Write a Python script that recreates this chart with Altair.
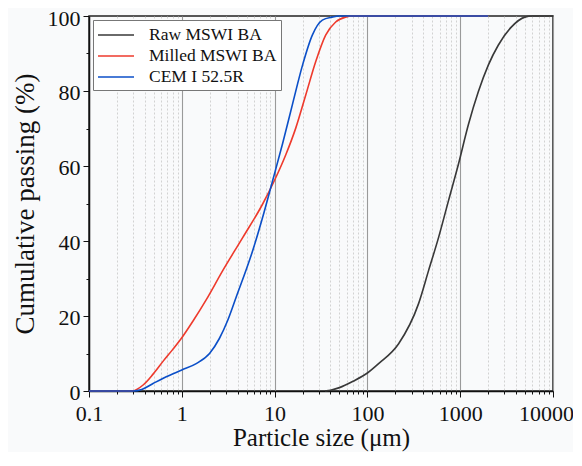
import altair as alt
import pandas as pd

names = ["Raw MSWI BA", "Milled MSWI BA", "CEM I 52.5R"]
colors = ["#383838", "#ee3a2c", "#0b4fc8"]

raw_x = [35, 40, 50, 70, 100, 132, 217, 356, 456, 584, 747, 955, 1224, 1567, 2008, 2570, 3573, 4966, 6000, 10000]
raw_y = [0, 0.2, 0.9, 2.6, 4.8, 7.3, 12.6, 23.3, 32.1, 40.9, 50.7, 60.4, 71, 79.8, 86.9, 92.2, 97.1, 99.7, 100, 100]

mil_x = [0.1, 0.29, 0.383, 0.49, 0.627, 0.8, 1, 1.316, 1.83, 2.76, 4.53, 7.41, 9.9, 13.2, 16.9, 21.7, 27.7, 35.5, 45.5, 58, 70, 2000]
mil_y = [0, 0, 1.6, 4.5, 7.9, 11.1, 14.2, 18.6, 24.3, 32.1, 40.9, 49.8, 56, 63, 70.1, 79, 87.8, 94.9, 98.4, 99.7, 100, 100]

cem_x = [0.1, 0.3, 0.37, 0.49, 0.68, 1, 1.43, 1.99, 2.54, 3.12, 3.85, 5.8, 7.41, 9.5, 12.2, 15.6, 20, 25.5, 32.7, 41.7, 50, 2000]
cem_y = [0, 0, 0.4, 2.0, 3.8, 5.6, 7.3, 10, 14, 18.8, 25, 37.4, 46.2, 56, 66, 76.5, 86.9, 94.9, 98.9, 99.7, 100, 100]

x_major = [0.1, 1, 10, 100, 1000, 10000]
x_minor = [m * d for d in [0.1, 1, 10, 100, 1000] for m in range(2, 10)]
y_major = [0, 20, 40, 60, 80, 100]
y_minor = [10, 30, 50, 70, 90]

rows = []
for name, xs, ys in [(names[0], raw_x, raw_y), (names[1], mil_x, mil_y), (names[2], cem_x, cem_y)]:
    for i, (a, b) in enumerate(zip(xs, ys)):
        rows.append({"sample": name, "size": a, "pass": b, "idx": i})
df = pd.DataFrame(rows)

FONT = "Liberation Serif"
xscale = alt.Scale(type="log", domain=[0.1, 10000], nice=False)
yscale = alt.Scale(domain=[0, 100], nice=False)

minor = alt.Chart(df).mark_line(opacity=0).encode(
    x=alt.X("size:Q", scale=xscale, axis=alt.Axis(
        values=x_minor, grid=True, gridDash=[2, 2], gridColor="#c8c8c8", gridWidth=0.8,
        labels=False, tickSize=3, tickColor="#111", domain=False, title=None, orient="bottom")),
    y=alt.Y("pass:Q", scale=yscale, axis=alt.Axis(
        values=y_minor, grid=False, labels=False, tickSize=3, tickColor="#111",
        domain=False, title=None, orient="left")),
)

lines = alt.Chart(df).mark_line(interpolate="monotone", strokeWidth=1.6).encode(
    x=alt.X("size:Q", scale=xscale, title="Particle size (μm)", axis=alt.Axis(
        values=x_major, format="~g", grid=True, gridColor="#9a9a9a", gridWidth=1.1,
        tickSize=6, tickColor="#111", domainColor="#111", domainWidth=1.5,
        labelFont=FONT, labelFontSize=22, labelColor="#111", labelPadding=6,
        labelOffset=alt.condition("datum.value == 10000", alt.value(-7), alt.value(0)),
        titleFont=FONT, titleFontSize=25, titleFontWeight="normal", titleColor="#111",
        titlePadding=1, orient="bottom", labelFlush=False)),
    y=alt.Y("pass:Q", scale=yscale, title="Cumulative passing (%)", axis=alt.Axis(
        values=y_major, grid=False, tickSize=6, tickColor="#111", domainColor="#111",
        domainWidth=1.5, labelFont=FONT, labelFontSize=22, labelColor="#111",
        labelPadding=3, labelOffset=alt.condition("datum.value == 100", alt.value(2), alt.value(1)),
        titleFont=FONT, titleFontSize=27,
        titleFontWeight="normal", titleColor="#111", titlePadding=8, orient="left")),
    color=alt.Color("sample:N", scale=alt.Scale(domain=names, range=colors),
                    sort=names,
                    legend=alt.Legend(title=None, orient="top-left", offset=4,
                                      symbolType="M-1.8,0H1.8", symbolSize=400,
                                      symbolStrokeWidth=1.6, symbolOffset=8,
                                      labelFont=FONT, labelFontSize=17.5, labelColor="#111",
                                      strokeColor="#777", fillColor="white",
                                      padding=4, rowPadding=1, labelOffset=22)),
    order="idx:Q",
)

chart = alt.layer(minor, lines).resolve_axis(x="independent", y="independent").properties(
    width=464, height=375,
    autosize=alt.AutoSizeParams(type="none"),
    padding={"left": 81, "top": 8, "right": 20, "bottom": 61},
    background="#f9fafb",
).configure_view(stroke="#222", strokeWidth=1.5)

chart.save("out.html", embed_options={"renderer": "svg", "actions": False})
